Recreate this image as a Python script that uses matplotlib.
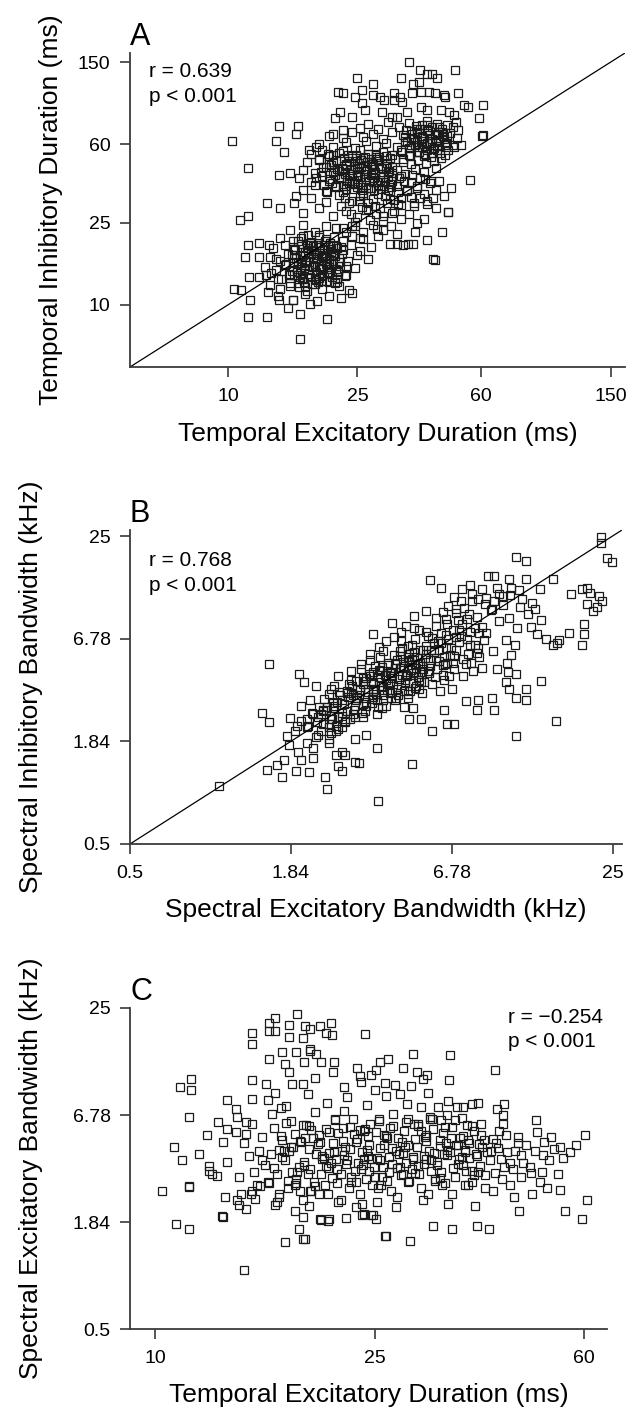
import numpy as np
import matplotlib
matplotlib.use("Agg")
import matplotlib.pyplot as plt
from matplotlib.ticker import NullLocator

plt.rcParams['font.family'] = ['Liberation Sans', 'DejaVu Sans']

# ---------------- panel A: temporal excitatory vs inhibitory duration (ms)
a_sparse_x = [36, 50, 39, 41, 42.5, 44, 25, 28, 34, 37,
              38.6, 21.8, 22.6, 24.6, 25.8, 25.8, 28, 29.4, 30.1, 32.3,
              33.9, 34.3, 36.8, 39.1, 41.6, 43.2, 46.1, 46.6, 50.8, 53.3,
              54.6, 60.7, 32.3, 22.1, 21.4, 24, 26.4, 29.8, 31.9, 33.1,
              35.5, 39.1, 41, 45.1, 47.8, 49.6, 59.2, 60.7, 50.2, 50.8,
              14.4, 16.4, 16.2, 14, 14.9, 17.8, 18.7, 21, 22.6, 10.3,
              11.5, 14.4, 15.5, 13.2, 14.5, 16, 16.2, 10.9, 11.5, 60.4,
              11.5, 12.45, 13.4, 11.3, 12.45, 14, 11.6, 10.4, 11, 13.05,
              14.2, 13.3, 11.7, 14.4, 15.3, 15.9, 16.7, 17.9, 20.1, 11.5,
              13.2, 16.6, 41, 43.2, 47.3, 43.7, 46.1, 48.4, 55.3, 44.6,
              41, 37.3, 47.5, 42.7, 45.5, 52, 49, 47.3, 45.7, 44.1]
a_sparse_y = [150, 137, 137, 131, 131, 125, 126, 118, 126, 118,
              120, 107.6, 106.5, 102, 109.7, 94.6, 104, 102, 98.2, 105.7,
              102, 96.4, 105.7, 107.6, 107.6, 105.7, 104, 102, 105.7, 92.9,
              91.2, 92.9, 98.2, 86.2, 80, 81.5, 87.8, 86.2, 81.5, 81.5,
              86.2, 91.2, 87.8, 87.8, 86.2, 83.2, 80, 66.4, 77, 70.3,
              73.5, 73.5, 67.6, 62.3, 55.2, 56.3, 58.1, 67.6, 70.3, 62.3,
              45.9, 42.4, 43.4, 31, 29.5, 31.3, 33.5, 25.8, 27, 65.7,
              19.6, 19.9, 19.6, 17, 17, 16.6, 13.6, 12, 11.8, 13.9,
              13.4, 11.6, 10.6, 10.6, 9.7, 10.5, 9, 10.1, 8.5, 8.7,
              8.7, 6.8, 20.6, 16.5, 28.2, 29.5, 33.5, 36.8, 40.4, 39.7,
              31.8, 30.1, 28.1, 16.6, 22.5, 59.6, 59.6, 56.3, 67.6, 69]

a_upper_x = [25.5, 27, 29, 31, 33.5, 36, 38, 39.5, 41, 42.5, 44, 45.5, 47, 49,
             20.5, 22.5, 24, 26, 28, 30, 32, 34.5, 36.5, 38, 39.5, 41, 42.5, 44, 46, 48, 50.5,
             19, 21, 23, 24.5, 26.5, 28.5, 30.5, 33, 35, 36.5, 38, 39.5, 41, 42.5, 44.5, 47, 49.5,
             18, 19.5, 21, 22.5, 24, 25.5, 27, 28.5, 30, 32, 34, 36, 38, 40, 42, 44, 46.5,
             17.5, 19, 20.5, 21.5, 23, 24.5, 26, 27.5, 29, 30.5, 32.5, 34.5, 36.5, 38.5, 40.5, 43,
             17, 18.5, 20, 21, 22.5, 24, 25, 26.5, 28, 29.5, 31, 33, 35, 37.5, 40, 43.5,
             16.5, 18, 19.5, 20.5, 22, 23.5, 25, 26.5, 28, 30, 32, 34, 36.5, 39, 42,
             17, 18.5, 20, 21.5, 23, 24.5, 26, 27.5, 29, 31, 33, 35.5, 38,
             18, 20, 22, 24, 25.5, 27, 29, 31.5, 34,
             31.5, 33.2, 34.8, 36.4, 38.1, 39.9, 41.7, 43.5, 32.4,
             34.0, 35.6, 37.3, 39.0, 40.8, 42.6, 33.6, 36.9, 40.3]
a_upper_y = [72, 75, 71, 77, 73, 76, 71.5, 74, 77.5, 72.5, 75, 71, 74, 73,
             66, 64, 68.5, 65, 67, 63.5, 69, 66.5, 64, 68, 65.5, 69.5, 63.5, 67, 65, 68, 64.5,
             60, 58, 61.5, 57.5, 62, 59, 61, 58.5, 62.5, 59.5, 61.5, 58, 60.5, 62, 59, 61, 58.5,
             54, 56, 53, 55.5, 52.5, 56.5, 54, 52, 55, 53.5, 56, 53, 55, 52.5, 54.5, 56, 53,
             49, 51, 48, 50.5, 47.5, 49.5, 51.5, 48, 50, 47, 51, 49, 48, 50.5, 48.5, 50,
             45, 43.5, 46.5, 44, 45.5, 43, 46, 44.5, 43.5, 46, 44, 45, 43, 45.5, 44, 46,
             41, 39.5, 42, 40, 41.5, 39, 42.5, 40.5, 39.5, 41.5, 40, 42, 39.5, 41, 40,
             36, 38, 35.5, 37.5, 36.5, 38.5, 35, 37, 38, 36, 37.5, 35.5, 37,
             33, 31.5, 34, 32, 33.5, 31, 34.5, 32.5, 33,
             38.5, 35.2, 39.6, 33.4, 37.8, 34.6, 38.9, 36.1, 32.1,
             30.4, 35.9, 31.2, 32.8, 30.9, 33.1, 41.3, 42.4, 40.7]

a_core_x = [19.3, 20.8, 22.2, 23.6, 25.1, 26.3, 27.9, 29.4, 30.8, 31.9,
            19.8, 21.4, 22.8, 24.3, 25.7, 27.2, 28.6, 30.1, 31.4, 20.3,
            21.1, 22.5, 23.9, 25.4, 26.8, 28.2, 29.7, 31.1, 24.7, 27.6,
            20.1, 21.7, 23.2, 24.6, 26.1, 27.5, 29.0, 30.5, 22.0, 25.9,
            19.1, 20.6, 22.4, 23.4, 24.9, 26.5, 28.0, 29.2, 30.3, 32.0,
            21.3, 22.9, 24.1, 25.6, 27.0, 28.4, 29.9, 31.6, 23.0, 26.7,
            18.6, 20.4, 21.9, 23.7, 25.3, 26.9, 28.8, 30.7, 19.6, 24.4,
            20.9, 22.6, 24.0, 25.0, 26.4, 27.8, 29.5, 31.3, 28.1, 23.1,
            34.2, 35.6, 36.9, 38.3, 39.7, 41.2, 42.6, 44.1, 45.5, 46.8,
            34.9, 36.3, 37.6, 39.0, 40.4, 41.9, 43.3, 44.8, 46.2, 35.3,
            36.0, 37.3, 38.7, 40.1, 41.5, 42.9, 44.4, 45.9, 38.0, 42.2,
            34.6, 36.6, 39.3, 40.8, 43.7, 45.1, 47.2, 37.9, 41.0, 44.0]
a_core_y = [44.2, 47.8, 41.3, 49.6, 38.7, 52.1, 45.3, 40.1, 48.4, 43.6,
            38.2, 42.6, 51.4, 36.3, 46.7, 39.9, 53.2, 37.6, 51.7, 53.8,
            49.1, 37.8, 44.9, 41.6, 49.3, 35.9, 46.1, 41.8, 53.5, 42.8,
            35.4, 45.6, 40.2, 47.3, 43.1, 50.7, 39.2, 45.9, 54.6, 36.1,
            50.6, 40.7, 46.2, 53.0, 44.0, 38.1, 47.9, 51.8, 39.4, 46.8,
            37.2, 43.0, 38.9, 50.2, 36.8, 44.1, 42.9, 37.1, 48.1, 45.5,
            41.0, 52.5, 44.4, 42.2, 48.8, 54.0, 50.9, 52.9, 46.6, 39.8,
            39.1, 35.1, 51.3, 37.2, 41.4, 47.0, 36.5, 44.7, 41.1, 37.5,
            55.3, 61.8, 67.2, 58.1, 64.4, 70.6, 56.9, 62.7, 68.9, 59.6,
            65.1, 52.7, 59.3, 71.5, 53.8, 60.7, 66.3, 54.4, 63.5, 70.2,
            57.7, 63.9, 54.9, 60.1, 66.7, 57.5, 72.8, 65.8, 68.4, 51.9,
            50.9, 69.4, 62.2, 56.2, 62.0, 51.4, 66.0, 73.6, 74.5, 58.7]

a_mid_x = [17, 19, 21, 23, 25, 27, 28.5, 30, 32, 34, 36, 38, 40, 24,
           26, 28, 30, 31.5, 33, 34.5, 35.8, 37, 22.5, 25.5, 29, 33, 37.5,
           22.3, 23.8, 25.2, 26.6, 27.9, 29.3, 30.9, 32.4, 24.5, 27.3,
           29.9, 22.9, 26.0, 28.7, 31.6, 23.5, 25.8, 28.3, 30.4, 33.2]
a_mid_y = [28, 29.5, 27, 28.5, 26.5, 29, 27.5, 25.5, 28, 26, 27.5, 25, 26, 24,
           22.5, 24.5, 23, 19.7, 19.8, 19.6, 19.7, 19.8, 23.5, 21, 21.5, 22, 22.5,
           30.1, 27.6, 31.8, 28.9, 32.6, 29.4, 31.2, 28.6, 25.3, 25.9,
           26.8, 33.0, 34.0, 23.3, 24.2, 31.3, 29.7, 30.2, 33.7, 30.8]

a_lower_x = [15.5, 17, 18.5, 20, 21.5, 23, 24.5,
             14.5, 15.8, 17, 18, 19, 20, 21.2, 22.5, 24, 26,
             13.8, 15, 16, 16.8, 17.5, 18.3, 19, 19.8, 20.6, 21.5, 22.5, 23.8, 25.5, 27.5,
             13.5, 14.5, 15.3, 16, 16.7, 17.4, 18, 18.7, 19.4, 20.2, 21, 22, 23.3, 25, 27,
             13, 14, 15, 15.7, 16.4, 17.1, 17.8, 18.5, 19.2, 20, 20.8, 21.8, 23, 24.5,
             12.5, 13.6, 14.6, 15.5, 16.3, 17, 17.8, 18.6, 19.5, 20.5, 21.6, 23,
             13.5, 14.5, 15.5, 16.5, 17.5, 18.5, 19.5, 20.5, 22, 23.5,
             14.2, 15.8, 17.3, 18.8, 20.5, 22.3, 24,
             15.4, 16.2, 16.9, 17.6, 18.2, 18.9, 19.6, 20.3, 21.1, 21.9,
             15.7, 16.5, 17.2, 17.9, 18.6, 19.3, 20.0, 20.7, 21.5, 22.4,
             15.1, 15.9, 16.7, 17.4, 18.1, 18.7, 19.4, 20.1, 20.9, 21.7,
             16.0, 16.8, 17.5, 18.3, 19.0, 19.8, 20.5, 21.3, 22.1, 22.9,
             15.5, 16.3, 17.0, 17.7, 18.4, 19.1, 19.9, 20.6, 21.4, 17.3,
             16.1, 16.9, 17.8, 18.5, 19.2, 20.2, 21.0, 21.8, 18.8, 20.8,
             15.8, 16.6, 17.3, 18.0, 18.7, 19.5, 20.4, 21.2, 22.2, 19.9,
             16.4, 17.1, 17.9, 18.6, 19.4, 20.0, 19.0, 17.6, 21.6, 16.8]
a_lower_y = [23, 24.5, 22.5, 24, 23.5, 22.5, 24,
             21, 20.5, 21.5, 20.2, 21.8, 20.8, 21.3, 20.4, 21.6, 20.8,
             18.8, 19.5, 18.4, 19.7, 18.9, 19.3, 18.2, 19.6, 18.7, 19.2, 18.5, 19.4, 18.3, 19,
             17, 16.4, 17.6, 16.8, 17.3, 16.2, 17.8, 16.6, 17.2, 16.3, 17.5, 16.9, 16.4, 17.4, 16.6,
             15.2, 14.8, 15.6, 14.6, 15.9, 15.1, 14.7, 15.5, 14.9, 15.7, 15, 14.6, 15.4, 15.1,
             13.6, 14.2, 13.3, 13.9, 14.4, 13.5, 14.1, 13.2, 13.8, 14.3, 13.4, 13.9,
             12.5, 11.9, 12.8, 12.2, 11.7, 12.6, 12, 12.9, 12.3, 11.8,
             11, 10.6, 11.3, 10.4, 11.1, 10.8, 11.4,
             14.1, 16.8, 13.3, 18.4, 15.2, 12.9, 17.1, 14.5, 19.3, 16.2,
             17.5, 12.8, 15.6, 13.7, 19.6, 16.3, 13.1, 18.0, 14.9, 17.7,
             15.8, 19.0, 14.3, 16.4, 12.6, 17.8, 14.0, 15.9, 13.6, 18.8,
             13.9, 15.3, 19.5, 17.0, 15.5, 18.5, 16.6, 12.7, 15.4, 13.8,
             12.4, 14.9, 17.4, 14.8, 18.2, 13.5, 16.9, 19.9, 17.3, 12.2,
             18.6, 16.0, 16.1, 13.4, 19.0, 14.2, 16.0, 14.4, 17.4, 18.7,
             16.2, 13.6, 18.1, 17.7, 14.4, 15.1, 15.2, 17.9, 19.1, 20.5,
             20.3, 12.9, 20.0, 16.7, 13.0, 17.4, 21.2, 21.7, 12.9, 21.0]

# ---------------- panel B: spectral excitatory vs inhibitory bandwidth (kHz)
b_sparse_x = [22.7, 22.7, 23.9, 24.8, 11.4, 12.4, 5.7, 6.2, 9.1, 9.6,
              10.8, 12.4, 15.4, 13.9, 17.9, 19.5, 20.3, 20.9, 22.4, 23.0,
              20.3, 22.0, 21.4, 19.8, 19.8, 19.5, 17.6, 16.2, 14.6, 15.4,
              16.0, 14.0, 15.8, 11.4, 1.54, 1.97, 2.05, 2.26, 1.46, 1.54,
              1.79, 1.83, 1.94, 1.81, 1.52, 1.65, 1.74, 1.72, 1.92, 2.14,
              2.43, 2.46, 2.80, 3.10, 3.72, 4.9, 2.0, 2.65, 2.86, 1.03,
              10.5, 10.8, 11.4, 12.4, 12.4, 9.6, 8.3, 8.4, 7.6, 9.4,
              10.7, 11.4, 6.55, 6.9, 5.8, 6.4, 4.97, 4.6, 4.8, 5.3,
              11.8, 12.6, 13.3, 14.0, 12.9, 13.6, 10.9, 11.7]
b_sparse_y = [24.6, 22.8, 18.85, 18.0, 19.1, 18.3, 14.3, 12.9, 15.1, 15.1,
              14.4, 14.5, 14.4, 12.7, 12.0, 12.7, 13.0, 12.2, 11.7, 11.0,
              10.6, 10.2, 9.6, 8.2, 7.2, 6.3, 7.3, 6.7, 6.8, 6.3,
              6.4, 3.98, 2.39, 1.98, 4.92, 4.35, 3.9, 3.74, 2.65, 2.36,
              1.98, 2.47, 2.25, 1.75, 1.28, 1.36, 1.45, 1.17, 1.27, 1.25,
              1.17, 1.0, 1.26, 1.42, 0.86, 1.39, 1.45, 1.55, 1.55, 1.05,
              3.9, 3.6, 3.18, 3.6, 3.12, 2.76, 2.76, 3.12, 3.06, 3.18,
              4.45, 4.35, 2.3, 2.3, 2.1, 2.76, 2.8, 2.85, 2.45, 2.45,
              10.1, 9.3, 9.9, 8.6, 7.9, 7.2, 11.8, 12.6]

b_dense_x = [1.9, 2.0, 2.1, 2.2, 2.3, 2.4, 2.0, 2.2, 2.4, 2.1, 2.3, 2.5, 1.95, 2.15, 2.35,
             2.5, 2.6, 2.7, 2.8, 2.9, 3.0, 3.1, 2.55, 2.65, 2.75, 2.85, 2.95, 3.05, 3.15, 2.6, 2.8, 3.0, 2.7, 2.9, 3.1,
             3.2, 3.3, 3.4, 3.5, 3.6, 3.7, 3.8, 3.9, 4.0, 4.1, 3.25, 3.35, 3.45, 3.55, 3.65, 3.75, 3.85, 3.95, 4.05, 4.15,
             3.3, 3.5, 3.7, 3.9, 4.1, 3.4, 3.6, 3.8, 4.0,
             4.2, 4.35, 4.5, 4.65, 4.8, 4.95, 5.1, 5.25, 5.4, 4.25, 4.4, 4.55, 4.7, 4.85, 5.0, 5.15, 5.3, 5.45,
             4.3, 4.6, 4.9, 5.2, 4.45, 4.75, 5.05, 5.35,
             5.5, 5.7, 5.9, 6.1, 6.3, 6.5, 6.7, 6.9, 5.6, 5.8, 6.0, 6.2, 6.4, 6.6, 6.8, 5.65, 6.05, 6.45, 6.85, 5.75, 6.15, 6.55,
             7.0, 7.3, 7.6, 7.9, 8.2, 8.5, 8.8, 7.15, 7.45, 7.75, 8.05, 8.35, 8.65, 7.2, 7.8, 8.4,
             9.0, 9.5, 10.0, 10.5, 11.0, 11.5, 9.3, 9.8, 10.3, 10.8, 11.3, 9.6, 10.6,
             3.6, 4.2, 4.7, 5.2, 5.5, 6.6, 7.3, 8.0, 8.7, 3.9, 4.5, 5.0, 6.0, 7.0,
             2.2, 2.5, 2.8, 3.1, 3.4, 3.7, 2.7, 3.2]
b_dense_y = [2.1, 2.4, 1.8, 2.6, 2.0, 2.3, 2.9, 1.7, 2.7, 2.2, 2.5, 1.9, 1.6, 3.1, 2.1,
             2.3, 2.8, 2.5, 3.1, 2.7, 3.4, 2.9, 3.6, 2.1, 3.3, 2.4, 3.8, 2.6, 3.2, 3.0, 2.2, 4.0, 4.2, 3.5, 2.5,
             3.3, 3.8, 2.9, 4.2, 3.5, 3.1, 4.5, 3.7, 4.0, 3.4, 4.6, 2.7, 3.6, 3.0, 4.8, 3.9, 2.8, 4.3, 5.0, 3.2,
             2.5, 5.2, 2.6, 3.3, 4.4, 4.1, 3.85, 5.4, 2.9,
             4.1, 3.6, 4.7, 3.9, 5.2, 4.4, 3.7, 5.0, 4.6, 5.5, 3.3, 6.0, 4.3, 3.5, 5.7, 4.9, 3.9, 5.3,
             3.1, 4.8, 6.3, 4.0, 5.8, 3.2, 6.8, 3.4,
             5.6, 4.8, 6.4, 5.1, 4.3, 6.0, 5.5, 4.6, 7.0, 3.8, 5.3, 7.3, 4.0, 6.8, 3.6, 4.4, 6.6, 4.9, 7.6, 5.9, 3.5, 8.2,
             5.9, 7.0, 4.9, 6.3, 7.8, 5.4, 6.7, 8.6, 4.2, 5.6, 4.5, 8.9, 4.7, 6.5, 9.3, 6.0,
             7.3, 5.8, 8.5, 6.7, 5.5, 7.8, 9.8, 4.6, 10.4, 8.8, 6.3, 11.0, 5.0,
             7.2, 8.3, 8.0, 7.6, 9.6, 10.3, 11.0, 12.0, 12.8, 5.8, 6.6, 9.0, 8.8, 9.9,
             1.5, 1.8, 1.6, 1.9, 2.0, 1.7, 1.35, 1.4]

b_core_x = [2.35, 2.5, 2.62, 2.78, 2.92, 3.08, 3.22, 3.38, 3.52, 3.68,
            3.82, 3.98, 4.12, 4.28, 4.42, 4.58, 4.72, 4.88, 5.02, 5.18,
            2.42, 2.58, 2.72, 2.86, 3.02, 3.16, 3.3, 3.46, 3.6, 3.76,
            3.9, 4.05, 4.2, 4.35, 4.5, 4.66, 4.8, 4.96, 5.1, 5.26,
            2.28, 2.46, 2.66, 2.84, 2.98, 3.12, 3.28, 3.44, 3.58, 3.72,
            3.86, 4.02, 4.16, 4.32, 4.48, 4.62, 4.78, 4.92, 5.06, 5.22,
            5.35, 5.52, 5.68, 5.86, 6.02, 6.2, 6.38, 6.56, 6.74, 6.92,
            5.42, 5.6, 5.78, 5.95, 6.12, 6.3, 6.48, 6.66, 6.84, 7.05,
            7.2, 7.45, 7.7, 7.95, 8.2, 8.45, 7.35, 7.85, 8.3, 8.7,
            2.1, 2.25, 2.4, 2.55, 2.7, 2.12, 2.32, 2.52, 2.18, 2.62,
            3.0, 3.25, 3.5, 3.75, 4.0, 4.25, 4.5, 4.75, 5.0, 5.5,
            6.0, 6.5, 7.0, 7.5, 8.0, 9.0, 10.0, 6.3, 7.7, 9.4,
            6.9, 7.4, 7.9, 8.4, 8.9, 9.8, 10.3, 11.0, 12.0, 13.0,
            2.45, 2.68, 2.9, 3.12, 3.35, 3.58, 3.8, 4.05, 4.3, 4.55, 4.82, 5.1,
            5.4, 2.55, 2.8, 3.05, 3.3, 3.55, 3.85, 4.15, 4.45, 4.75, 5.05, 5.35]
b_core_y = [2.6, 2.2, 2.9, 2.55, 3.25, 2.75, 3.55, 3.05, 3.9, 3.35,
            3.7, 4.3, 3.85, 4.65, 4.05, 5.05, 4.25, 4.55, 5.4, 4.15,
            3.15, 2.45, 3.45, 2.35, 3.7, 3.6, 2.95, 4.35, 3.25, 4.55,
            3.1, 4.85, 3.45, 5.15, 3.75, 4.0, 5.6, 3.85, 4.45, 5.85,
            2.35, 2.85, 2.25, 2.95, 2.45, 3.95, 2.65, 3.45, 4.45, 2.85,
            4.75, 3.55, 4.45, 3.2, 5.45, 3.5, 3.35, 5.25, 3.65, 3.6,
            4.8, 6.2, 5.15, 5.75, 4.6, 6.45, 5.35, 5.0, 6.05, 5.45,
            3.9, 4.5, 6.85, 4.15, 5.85, 4.85, 7.15, 4.25, 5.0, 6.95,
            7.6, 5.25, 6.75, 5.0, 6.25, 7.25, 8.15, 7.4, 5.65, 7.9,
            2.45, 1.95, 2.75, 2.05, 2.15, 2.25, 2.85, 3.35, 2.65, 3.7,
            4.5, 4.9, 5.6, 6.1, 6.6, 6.9, 7.4, 6.2, 7.8, 7.4,
            8.0, 8.7, 9.4, 10.0, 10.9, 11.4, 12.0, 9.5, 8.7, 9.9,
            11.6, 12.8, 13.5, 11.3, 10.5, 13.0, 11.7, 12.9, 11.3, 10.7,
            2.75, 3.05, 3.4, 3.1, 3.95, 3.6, 4.15, 3.8, 4.9, 4.3, 5.1, 4.7,
            5.9, 2.55, 2.65, 3.3, 4.1, 3.15, 3.55, 4.25, 4.65, 5.4, 4.9, 4.45]

# ---------------- panel C: temporal excitatory duration vs spectral excitatory bandwidth
c_sparse_x = [14.5, 17.2, 18.5, 18.7, 26.1, 29.0, 10.9, 11.5, 13.25, 18.2,
              18.5, 19.96, 20.6, 22.2, 23.7, 24.8, 25.2, 31.9, 34.5, 38.4,
              40.4, 59.4, 55.4, 45.7, 60.6, 54.2, 10.3, 11.5, 11.5, 12.5,
              12.5, 12.95, 13.5, 13.4, 13.2, 14.1, 14.2, 14.6, 14.3, 15.0,
              15.5, 16.5, 16.8, 17.4, 17.9, 18.5, 19.1, 19.9, 20.7, 21.5,
              23.1, 23.9, 24.6, 25.3, 26.2,
              18.1, 16.5, 16.1, 16.1, 16.5, 17.5, 17.5, 18.5, 19.1, 15.0,
              15.0, 17.0, 18.0, 19.1, 16.1, 15.0, 15.0, 15.9, 16.5, 17.2,
              17.5, 17.7, 18.5, 11.1, 11.6, 11.6, 13.5, 14.0, 14.1, 14.6,
              15.0, 13.5, 14.0, 14.6,
              18.7, 19.9, 20.4, 20.8, 20.9, 24.0, 19.1, 19.6, 20.0, 18.6,
              21.1, 23.2, 25.6, 26.4, 28.2, 29.3, 29.8, 30.6, 34.1, 34.3,
              41.3, 25.1, 24.6, 26.1, 27.2, 29.1, 31.1, 23.6, 49.0, 41.6,
              42.8, 37.6, 36.2, 35.2, 32.6, 30.4, 31.8, 33.9,
              58.0, 60.2, 56.5]
c_sparse_y = [1.03, 1.45, 1.49, 1.49, 1.55, 1.46, 1.79, 1.70, 1.96, 1.69,
              1.96, 1.89, 1.86, 1.94, 2.0, 2.0, 1.92, 1.75, 1.70, 1.75,
              1.69, 1.92, 2.1, 2.1, 2.4, 2.73, 2.69, 2.86, 2.81, 3.65,
              3.43, 3.23, 3.83, 2.5, 1.97, 2.4, 2.26, 2.17, 2.58, 2.69,
              2.86, 2.26, 2.58, 3.05, 2.1, 2.4, 2.69, 1.9, 1.9, 2.35,
              2.22, 2.04, 2.0, 2.35, 1.55,
              23.1, 22.0, 20.7, 18.9, 18.8, 20.2, 17.6, 17.4, 19.4, 18.4,
              16.2, 14.7, 14.7, 14.8, 13.4, 10.4, 8.25, 9.9, 8.9, 12.7,
              11.4, 9.9, 9.9, 9.5, 10.5, 9.2, 8.1, 7.3, 6.6, 6.25,
              6.1, 5.7, 5.5, 5.4,
              20.0, 20.0, 18.4, 20.8, 18.1, 18.2, 15.1, 14.3, 13.0, 12.9,
              12.9, 12.1, 13.0, 13.5, 12.0, 14.3, 11.5, 10.5, 10.4, 14.1,
              11.7, 11.7, 11.0, 10.0, 9.8, 9.7, 11.0, 10.2, 6.4, 7.3,
              6.8, 7.75, 7.5, 7.5, 7.45, 7.5, 6.45, 6.8,
              4.7, 5.3, 4.3]

c_dense_x = [14.2, 14.8, 15.3, 15.8, 14.5, 15.1, 15.6, 14.9, 15.4, 16.0,
             16.2, 16.6, 17.0, 17.4, 17.8, 18.2, 16.4, 16.8, 17.2, 17.6, 18.0, 18.4, 16.3, 17.1, 17.9, 16.9, 17.7, 18.3,
             18.6, 19.0, 19.4, 19.8, 20.2, 20.6, 21.0, 21.4, 18.8, 19.2, 19.6, 20.0, 20.4, 20.8, 21.2, 18.7, 19.5, 20.3, 21.1, 19.1, 19.9, 20.7,
             21.7, 22.1, 22.5, 22.9, 23.3, 23.7, 24.1, 24.5, 24.9, 21.9, 22.3, 22.7, 23.1, 23.5, 23.9, 24.3, 24.7, 22.0, 22.8, 23.6, 24.4,
             25.3, 25.8, 26.3, 26.8, 27.3, 27.8, 28.3, 28.8, 25.5, 26.0, 26.5, 27.0, 27.5, 28.0, 28.5, 25.7, 26.7, 27.7, 28.7,
             29.2, 29.8, 30.4, 31.0, 31.6, 32.2, 32.8, 33.4, 29.5, 30.1, 30.7, 31.3, 31.9, 32.5, 33.1, 33.7, 30.0, 31.5, 33.0,
             34.3, 35.0, 35.7, 36.4, 37.1, 37.8, 38.5, 39.2, 34.6, 35.4, 36.1, 36.8, 37.5, 38.2, 39.0, 39.7, 35.0, 37.0,
             40.5, 41.5, 42.5, 43.5, 44.5, 45.5, 46.5, 41.0, 42.0, 43.0, 44.0, 45.0, 46.0, 47.0, 42.7, 44.7,
             47.8, 48.8, 49.8, 50.8, 51.8, 52.8, 53.8, 55.0, 48.3, 50.3, 52.3, 54.3, 49.3, 51.3,
             16.0, 17.3, 18.9, 20.5, 22.3, 24.2, 26.2, 28.6, 31.2, 34.0, 38.5, 43.0, 19.5, 22.0, 25.0, 27.8, 21.0, 23.5,
             10.8, 11.2, 12.0, 12.4, 13.0, 13.3, 12.7, 11.5]
c_dense_y = [3.2, 4.1, 2.9, 3.7, 4.8, 3.4, 5.2, 2.6, 4.4, 3.0,
             4.2, 3.3, 5.0, 2.8, 4.6, 3.6, 5.8, 2.5, 3.9, 6.3, 3.1, 4.9, 6.9, 4.4, 5.4, 7.4, 3.4, 2.7,
             3.7, 4.5, 3.0, 5.3, 4.0, 2.6, 4.8, 3.5, 6.0, 2.7, 4.2, 3.3, 5.7, 3.8, 6.5, 5.1, 7.0, 2.9, 4.3, 3.5, 4.9, 5.5,
             3.3, 4.6, 2.8, 5.4, 3.8, 4.3, 3.1, 6.1, 3.6, 5.8, 3.9, 3.2, 4.9, 2.6, 5.6, 4.1, 2.9, 7.1, 6.5, 3.5, 4.7,
             4.0, 3.2, 5.1, 2.7, 4.4, 3.6, 5.6, 3.0, 6.3, 4.7, 3.4, 6.9, 2.5, 4.9, 3.8, 2.9, 5.8, 4.2, 6.5,
             3.5, 4.6, 2.8, 5.3, 3.9, 3.1, 5.0, 4.2, 6.1, 3.3, 4.1, 2.6, 5.7, 3.7, 2.9, 4.8, 5.9, 6.6, 3.4,
             4.3, 3.2, 5.1, 2.9, 4.0, 5.6, 3.4, 4.6, 2.6, 4.7, 3.7, 6.0, 3.0, 4.2, 5.3, 2.8, 6.4, 5.0,
             3.9, 4.8, 3.1, 4.3, 3.5, 5.2, 3.8, 2.7, 5.6, 3.6, 2.9, 4.4, 3.2, 4.7, 6.1, 2.5,
             3.6, 4.4, 3.0, 4.9, 3.9, 4.5, 3.3, 4.0, 2.6, 3.4, 5.2, 4.6, 5.5, 2.8,
             8.1, 7.6, 8.8, 7.9, 8.4, 7.7, 8.6, 7.8, 8.9, 8.0, 7.9, 7.8, 10.6, 9.6, 9.2, 8.8, 11.5, 10.9,
             4.6, 3.9, 4.2, 5.3, 6.2, 4.9, 3.3, 6.6]

c_core_x = [16.4, 17.5, 18.6, 19.7, 20.9, 22.0, 23.2, 24.4, 25.6, 26.9,
            28.2, 29.6, 31.0, 32.4, 33.9, 35.5, 37.1, 38.8, 40.6, 42.4,
            16.9, 18.0, 19.2, 20.4, 21.5, 22.7, 23.9, 25.1, 26.3, 27.6,
            28.9, 30.3, 31.7, 33.2, 34.7, 36.2, 37.8, 39.5, 41.3, 43.3,
            17.0, 18.3, 19.5, 20.7, 21.9, 23.0, 24.2, 25.4, 26.6, 27.9,
            29.3, 30.7, 32.1, 33.6, 35.1, 36.7, 38.3, 40.0, 41.8, 44.0,
            15.6, 16.1, 17.3, 18.5, 19.8, 21.2, 22.6, 24.0, 25.5, 27.0,
            28.5, 30.0, 31.5, 33.0, 34.5, 36.0, 37.5, 39.0, 46.0, 48.0,
            18.1, 20.1, 22.2, 24.6, 26.0, 29.6, 32.8, 36.5, 41.0, 45.5,
            15.2, 16.6, 19.0, 21.7, 23.7, 27.3, 30.6, 34.0, 38.0, 50.5,
            17.6, 18.9, 20.1, 21.4, 22.6, 23.8, 25.0, 26.2,
            27.4, 28.7, 30.0, 31.4, 32.9, 34.4, 36.0, 37.6,
            17.9, 19.3, 20.6, 21.8, 23.1, 24.3, 25.6, 26.9,
            28.1, 29.4, 30.8, 32.2, 33.8, 35.4, 37.0, 38.7,
            16.8, 19.0, 21.3, 23.5, 25.9, 28.4, 31.0, 33.5, 36.4, 39.6]
c_core_y = [3.55, 4.35, 3.85, 4.75, 3.15, 4.15, 5.05, 3.45, 4.55, 3.75,
            4.25, 3.35, 4.95, 3.85, 4.45, 3.95, 4.85, 3.65, 4.35, 3.95,
            5.25, 2.95, 5.65, 3.65, 5.45, 3.0, 3.95, 5.5, 3.05, 5.15,
            3.05, 5.6, 3.45, 5.45, 3.55, 5.25, 3.25, 5.0, 3.35, 5.35,
            4.05, 4.95, 2.85, 4.25, 4.95, 3.45, 4.45, 2.8, 4.05, 3.25,
            4.05, 3.75, 4.25, 2.95, 4.7, 3.45, 4.1, 4.3, 4.55, 3.8,
            3.9, 2.95, 6.15, 6.0, 2.6, 6.35, 5.85, 5.75, 6.45, 5.95,
            6.2, 6.05, 6.5, 6.35, 5.85, 6.55, 5.9, 6.1, 4.15, 3.35,
            3.4, 3.95, 3.75, 3.95, 5.35, 5.05, 4.65, 4.3, 5.05, 4.85,
            2.45, 2.35, 2.25, 2.4, 2.3, 2.2, 2.4, 2.3, 2.25, 4.15,
            4.6, 3.3, 4.1, 2.95, 4.5, 3.7, 3.2, 5.25,
            3.55, 4.7, 3.65, 4.4, 3.15, 5.15, 4.05, 3.45,
            2.9, 5.1, 3.55, 4.4, 3.0, 5.25, 3.9, 4.55,
            3.3, 3.95, 5.2, 3.05, 4.15, 3.75, 2.9, 4.75,
            4.45, 5.95, 3.95, 5.65, 3.6, 4.6, 3.95, 5.85, 4.45, 3.25]

# axis settings per panel
a_lim = (5, 166)
a_ticks = [10, 25, 60, 150]
bw_lim = (0.5, 27)
bw_ticks = [0.5, 1.84, 6.78, 25]
c_xlim = (9, 66)
c_xticks = [10, 25, 60]
c_ylim = (0.5, 25)

W, H = 634, 1412
fig = plt.figure(figsize=(W / 100, H / 100), dpi=100)


def make_axes(left, right, top, bottom):
    return fig.add_axes([left / W, 1 - bottom / H, (right - left) / W, (bottom - top) / H])


def style(ax, xlim, ylim, xticks, yticks):
    ax.set_xscale('log')
    ax.set_yscale('log')
    ax.set_xlim(*xlim)
    ax.set_ylim(*ylim)
    ax.set_xticks(xticks)
    ax.set_xticklabels([f'{t:g}' for t in xticks])
    ax.set_yticks(yticks)
    ax.set_yticklabels([f'{t:g}' for t in yticks])
    ax.xaxis.set_minor_locator(NullLocator())
    ax.yaxis.set_minor_locator(NullLocator())
    for s in ['top', 'right']:
        ax.spines[s].set_visible(False)
    for s in ['left', 'bottom']:
        ax.spines[s].set_color('#3a3a3a')
        ax.spines[s].set_linewidth(1.3)
    ax.tick_params(direction='out', length=7, width=1.2, color='#3a3a3a',
                   labelsize=14)
    ax.tick_params(axis='x', pad=8)
    ax.tick_params(axis='y', pad=7)
    ax.patch.set_alpha(0)


def scatter(ax, xs, ys):
    ax.plot(xs, ys, 's', mfc='none', mec='#1a1a1a', ms=5.3, mew=0.9,
            clip_on=False)


def labels(ax, xlabel, ylabel, xl_y, yl_x):
    ax.set_xlabel(xlabel, fontsize=19)
    ax.set_ylabel(ylabel, fontsize=19)
    ax.xaxis.set_label_coords(0.5, xl_y)
    ax.yaxis.set_label_coords(yl_x, 0.5)


# ---- A
axA = make_axes(130, 625, 53, 367)
style(axA, a_lim, a_lim, a_ticks, a_ticks)
for xs, ys in [(a_sparse_x, a_sparse_y), (a_upper_x, a_upper_y),
               (a_core_x, a_core_y), (a_mid_x, a_mid_y),
               (a_lower_x, a_lower_y)]:
    scatter(axA, xs, ys)
axA.plot(a_lim, a_lim, color='k', lw=0.9)
labels(axA, 'Temporal Excitatory Duration (ms)', 'Temporal Inhibitory Duration (ms)',
       -0.175, (63 - 130) / 495)
fig.text(130 / W, 1 - 45 / H, 'A', fontsize=22)
fig.text(149 / W, 1 - 77 / H, 'r = 0.639', fontsize=15)
fig.text(149 / W, 1 - 102 / H, 'p < 0.001', fontsize=15)

# ---- B
axB = make_axes(130, 622, 530, 844)
style(axB, bw_lim, bw_lim, bw_ticks, bw_ticks)
for xs, ys in [(b_sparse_x, b_sparse_y), (b_dense_x, b_dense_y),
               (b_core_x, b_core_y)]:
    scatter(axB, xs, ys)
axB.plot(bw_lim, bw_lim, color='k', lw=0.9)
labels(axB, 'Spectral Excitatory Bandwidth (kHz)', 'Spectral Inhibitory Bandwidth (kHz)',
       -0.172, (43 - 130) / 492)
fig.text(130 / W, 1 - 522 / H, 'B', fontsize=22)
fig.text(149 / W, 1 - 566 / H, 'r = 0.768', fontsize=15)
fig.text(149 / W, 1 - 591 / H, 'p < 0.001', fontsize=15)

# ---- C
axC = make_axes(130, 607, 1008, 1329)
style(axC, c_xlim, c_ylim, c_xticks, bw_ticks)
for xs, ys in [(c_sparse_x, c_sparse_y), (c_dense_x, c_dense_y),
               (c_core_x, c_core_y)]:
    scatter(axC, xs, ys)
labels(axC, 'Temporal Excitatory Duration (ms)', 'Spectral Excitatory Bandwidth (kHz)',
       -0.168, (43 - 130) / 477)
fig.text(130 / W, 1 - 1000 / H, 'C', fontsize=22)
fig.text(508 / W, 1 - 1023 / H, 'r = \u22120.254', fontsize=15)
fig.text(508 / W, 1 - 1047 / H, 'p < 0.001', fontsize=15)

fig.savefig('out.png', dpi=100, facecolor='white')
